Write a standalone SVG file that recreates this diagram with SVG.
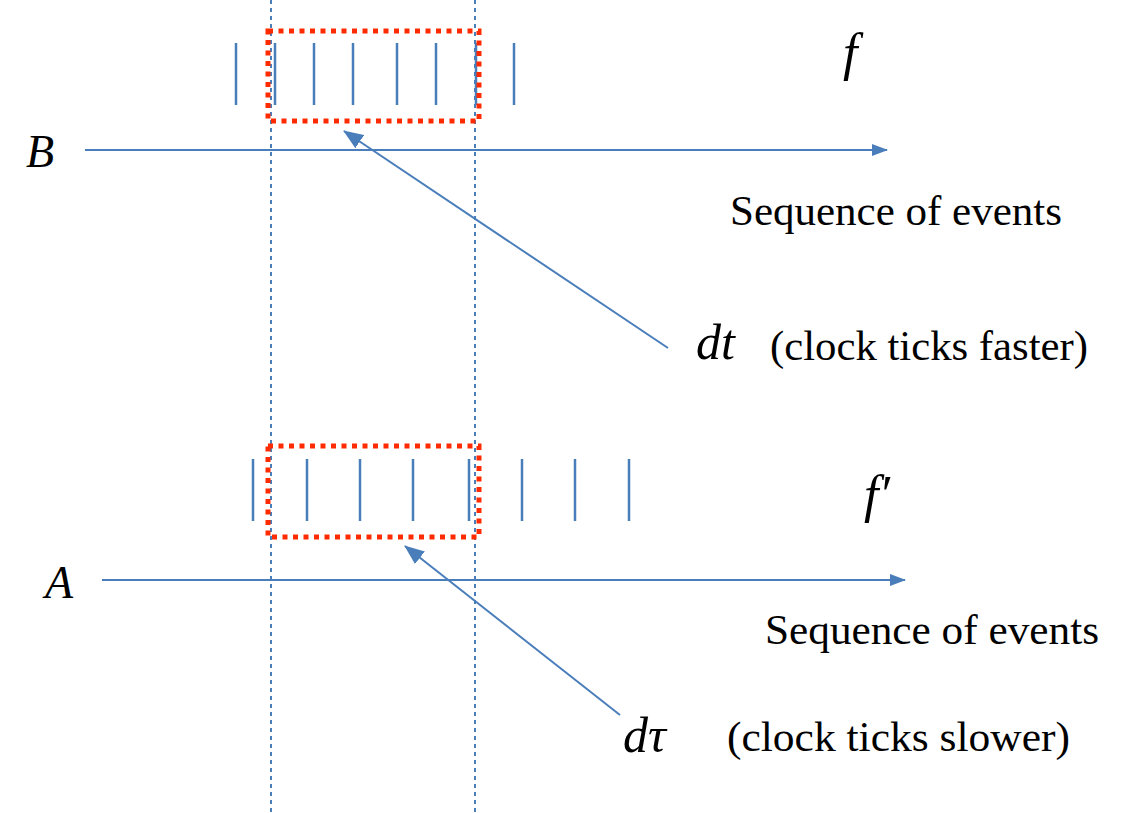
<svg xmlns="http://www.w3.org/2000/svg" width="1125" height="813" viewBox="0 0 1125 813">
<defs>
<marker id="ah" markerWidth="16" markerHeight="12" refX="15" refY="6" orient="auto" markerUnits="userSpaceOnUse">
<path d="M0,0 L16,6 L0,12 Z" fill="#4a7ebb"/>
</marker>
<marker id="ah2" markerWidth="20" markerHeight="16" refX="19" refY="8" orient="auto" markerUnits="userSpaceOnUse">
<path d="M0,0 L20,8 L0,16 Z" fill="#4a7ebb"/>
</marker>
<style>
.tick{stroke:#4a7ebb;stroke-width:2.5}
.axis{stroke:#4a7ebb;stroke-width:2;fill:none}
.guide{stroke:#4a7ebb;stroke-width:2;stroke-dasharray:4 4}
.box{fill:none;stroke:#ff2a00;stroke-width:5;stroke-dasharray:5 5.5}
.sym{font-family:"Liberation Serif",serif;font-style:italic;fill:#000}
.lbl{font-family:"Liberation Serif",serif;fill:#000}
</style>
</defs>
<rect width="1125" height="813" fill="#fff"/>
<g id="guides">
<line class="guide" x1="271" y1="0" x2="271" y2="813"/>
<line class="guide" x1="475" y1="0" x2="475" y2="813"/>
</g>
<g id="ticksB">
<line class="tick" x1="236" y1="43" x2="236" y2="105"/>
<line class="tick" x1="275" y1="43" x2="275" y2="105"/>
<line class="tick" x1="314" y1="43" x2="314" y2="105"/>
<line class="tick" x1="353" y1="43" x2="353" y2="105"/>
<line class="tick" x1="397" y1="43" x2="397" y2="105"/>
<line class="tick" x1="436" y1="43" x2="436" y2="105"/>
<line class="tick" x1="476" y1="43" x2="476" y2="105"/>
<line class="tick" x1="514" y1="43" x2="514" y2="105"/>
</g>
<g id="boxB"><rect class="box" x="268" y="31" width="211" height="90"/></g>
<g id="ticksA">
<line class="tick" x1="253" y1="459" x2="253" y2="521"/>
<line class="tick" x1="307" y1="459" x2="307" y2="521"/>
<line class="tick" x1="360" y1="459" x2="360" y2="521"/>
<line class="tick" x1="413" y1="459" x2="413" y2="521"/>
<line class="tick" x1="469" y1="459" x2="469" y2="521"/>
<line class="tick" x1="522" y1="459" x2="522" y2="521"/>
<line class="tick" x1="575" y1="459" x2="575" y2="521"/>
<line class="tick" x1="629" y1="459" x2="629" y2="521"/>
</g>
<g id="boxA"><rect class="box" x="268" y="446" width="211" height="91"/></g>
<g id="connectors">
<line class="axis" x1="85" y1="150" x2="887" y2="150" marker-end="url(#ah)"/>
<line class="axis" x1="102" y1="580" x2="905" y2="580" marker-end="url(#ah)"/>
<line class="axis" x1="668" y1="348" x2="344" y2="131" marker-end="url(#ah2)"/>
<line class="axis" x1="620" y1="715" x2="405" y2="546" marker-end="url(#ah2)"/>
</g>
<g id="labelB"><text class="sym" x="26" y="167" font-size="46">B</text></g>
<g id="labelA"><text class="sym" x="45" y="598" font-size="46">A</text></g>
<g id="labelf"><text class="sym" x="843" y="70" font-size="52">f</text></g>
<g id="labelfp"><text class="sym" x="864" y="512" font-size="52">f′</text></g>
<g id="seqB"><text class="lbl" x="730" y="225" font-size="42" textLength="332" lengthAdjust="spacingAndGlyphs">Sequence of events</text></g>
<g id="seqA"><text class="lbl" x="765" y="644" font-size="42" textLength="334" lengthAdjust="spacingAndGlyphs">Sequence of events</text></g>
<g id="dt"><text class="sym" x="696" y="359" font-size="50">dt</text>
<text class="lbl" x="770" y="360" font-size="42" textLength="318" lengthAdjust="spacingAndGlyphs">(clock ticks faster)</text></g>
<g id="dtau"><text class="sym" x="623" y="752" font-size="50">dτ</text>
<text class="lbl" x="727" y="751" font-size="42" textLength="343" lengthAdjust="spacingAndGlyphs">(clock ticks slower)</text></g>
</svg>
